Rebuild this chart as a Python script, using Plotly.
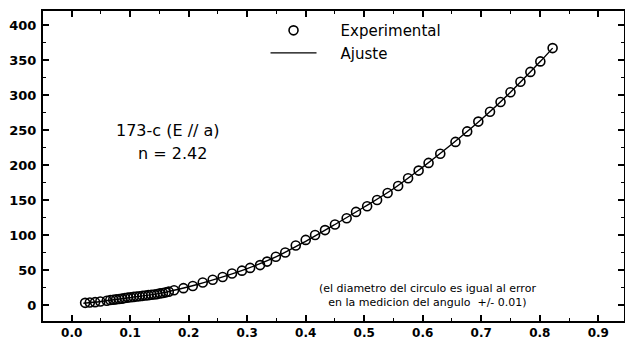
import plotly.graph_objects as go

exp_x = [0.023, 0.031, 0.040, 0.049, 0.060, 0.066, 0.071, 0.076, 0.081, 0.086,
         0.091, 0.096, 0.101, 0.106, 0.111, 0.116, 0.121, 0.126, 0.131, 0.136,
         0.141, 0.146, 0.151, 0.156, 0.161, 0.166, 0.175, 0.191, 0.207, 0.224,
         0.241, 0.258, 0.274, 0.291, 0.305, 0.322, 0.334, 0.349, 0.365, 0.383,
         0.400, 0.416, 0.433, 0.450, 0.470, 0.486, 0.505, 0.522, 0.540, 0.558,
         0.575, 0.593, 0.610, 0.630, 0.656, 0.676, 0.695, 0.715, 0.733, 0.750,
         0.767, 0.784, 0.801, 0.822]
exp_y = [3, 3.5, 4, 5, 6, 7, 7.5, 8, 8.5, 9,
         10, 10.5, 11, 11.5, 12, 12.5, 13, 13.5, 14, 14.5,
         15, 15.5, 16.5, 17, 18, 19, 21, 24, 27, 32,
         36, 40, 45, 49, 53, 57, 62, 69, 75, 85,
         93, 100, 107, 115, 124, 133, 141, 150, 160, 170,
         181, 192, 203, 216, 233, 248, 262, 276, 290, 304,
         319, 333, 348, 367]

# Fit curve (Ajuste)
fit_x = [0.02, 0.05, 0.10, 0.15, 0.20, 0.25, 0.30, 0.35, 0.40, 0.45,
         0.50, 0.55, 0.60, 0.65, 0.70, 0.75, 0.80, 0.822]
fit_y = [2.5, 5, 10.5, 16.5, 26, 38, 52, 69, 91, 115,
         140, 166, 197, 230, 265, 304, 347, 367]

x_ticks = [0.0, 0.1, 0.2, 0.3, 0.4, 0.5, 0.6, 0.7, 0.8, 0.9]
x_labels = ["0.0", "0.1", "0.2", "0.3", "0.4", "0.5", "0.6", "0.7", "0.8", "0.9"]
y_ticks = [0, 50, 100, 150, 200, 250, 300, 350, 400]
y_labels = ["0", "50", "100", "150", "200", "250", "300", "350", "400"]

FONT = "DejaVu Sans"
PAD = "\u00a0\u00a0\u00a0\u00a0"

fig = go.Figure()
fig.add_trace(go.Scatter(
    x=exp_x, y=exp_y, mode="markers", name=PAD + "Experimental",
    marker=dict(symbol="circle-open", size=9, color="black", line=dict(width=1.6)),
))
fig.add_trace(go.Scatter(
    x=fit_x, y=fit_y, mode="lines", name=PAD + "Ajuste", line_shape="spline",
    line=dict(color="black", width=1.4),
))

fig.add_annotation(x=0.164, y=249, xref="x", yref="y", text="173-c (E // a)",
                   showarrow=False, font=dict(family=FONT, size=16, color="black"))
fig.add_annotation(x=0.172, y=217, xref="x", yref="y", text="n = 2.42",
                   showarrow=False, font=dict(family=FONT, size=16, color="black"))
fig.add_annotation(x=0.608, y=14, xref="x", yref="y",
                   text="(el diametro del circulo es igual al error<br>en la medicion del angulo  +/- 0.01)",
                   showarrow=False, align="center",
                   font=dict(family=FONT, size=11, color="black"))

axis_common = dict(
    showline=True, linecolor="black", linewidth=2, mirror="allticks",
    ticks="inside", ticklen=6, tickwidth=1.5, tickcolor="black",
    showgrid=False, zeroline=False, automargin=False,
)

fig.update_xaxes(range=[-0.049, 0.944], tickvals=x_ticks, ticktext=x_labels,
                 tickfont=dict(family=FONT, size=12, color="black", weight="bold"),
                 minor=dict(dtick=0.05, ticks="inside", ticklen=3, tickcolor="black", tickwidth=1.2),
                 **axis_common)
fig.update_yaxes(range=[-22.9, 420], tickvals=y_ticks, ticktext=y_labels,
                 ticklabelstandoff=2,
                 tickfont=dict(family=FONT, size=13, color="black", weight="bold"),
                 minor=dict(dtick=25, ticks="inside", ticklen=3, tickcolor="black", tickwidth=1.2),
                 **axis_common)

fig.update_layout(
    width=625, height=340,
    margin=dict(l=43, r=1, t=11, b=19),
    plot_bgcolor="white", paper_bgcolor="white",
    showlegend=True,
    legend=dict(x=0.383, y=0.99, xanchor="left", yanchor="top",
                bgcolor="rgba(0,0,0,0)", font=dict(family=FONT, size=15, color="black"),
                itemwidth=46, tracegroupgap=0),
)

fig.write_html("out.html")
